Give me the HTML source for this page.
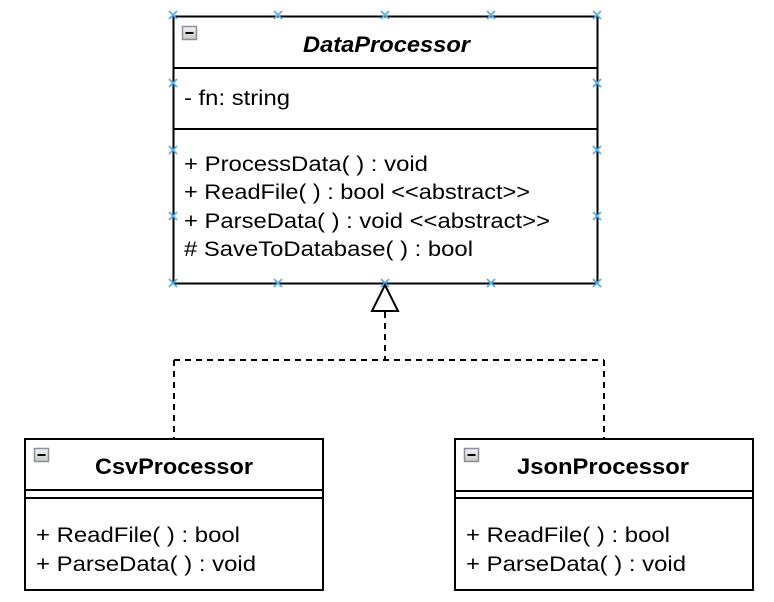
<!DOCTYPE html>
<html><head><meta charset="utf-8"><style>
html,body{margin:0;padding:0;background:#fff;}
svg{display:block;}
text{font-family:"Liberation Sans",Helvetica,Arial,sans-serif;fill:#000;}
</style></head><body>
<svg width="774" height="602" viewBox="0 0 774 602" xmlns="http://www.w3.org/2000/svg">
<defs>
<linearGradient id="g" x1="0" y1="0" x2="0" y2="1"><stop offset="0" stop-color="#f4f4f4"/><stop offset="1" stop-color="#c8c8c8"/></linearGradient>
<g id="mn"><rect x="0.5" y="0.5" width="14" height="13" fill="url(#g)" stroke="#8a8f99" stroke-width="1.5"/><rect x="3.5" y="6" width="8" height="2" fill="#000"/></g>
<g id="x"><path d="M-4,-4L4,4M-4,4L4,-4" stroke="#5aaee8" stroke-width="1.8"/></g>
</defs>
<rect x="173.5" y="16.5" width="424" height="267" fill="#fff" stroke="#000" stroke-width="2"/>
<line x1="173" y1="68" x2="597" y2="68" stroke="#000" stroke-width="2"/>
<line x1="173" y1="129" x2="597" y2="129" stroke="#000" stroke-width="2"/>
<use href="#mn" x="182" y="26"/>
<text x="303" y="52" font-size="22" font-weight="bold" font-style="italic" textLength="167" lengthAdjust="spacingAndGlyphs">DataProcessor</text>
<text x="184" y="105" font-size="21" textLength="106" lengthAdjust="spacingAndGlyphs">- fn: string</text>
<text x="184" y="171" font-size="21" textLength="244" lengthAdjust="spacingAndGlyphs">+ ProcessData( ) : void</text>
<text x="184" y="199" font-size="21" textLength="346" lengthAdjust="spacingAndGlyphs">+ ReadFile( ) : bool &lt;&lt;abstract&gt;&gt;</text>
<text x="184" y="228" font-size="21" textLength="366" lengthAdjust="spacingAndGlyphs">+ ParseData( ) : void &lt;&lt;abstract&gt;&gt;</text>
<text x="184" y="256" font-size="21" textLength="289" lengthAdjust="spacingAndGlyphs"># SaveToDatabase( ) : bool</text>
<use href="#x" x="173" y="15"/><use href="#x" x="278" y="15"/><use href="#x" x="385" y="15"/><use href="#x" x="491" y="15"/><use href="#x" x="597" y="15"/>
<use href="#x" x="173" y="83"/><use href="#x" x="597" y="83"/>
<use href="#x" x="173" y="150"/><use href="#x" x="597" y="150"/>
<use href="#x" x="173" y="216"/><use href="#x" x="597" y="216"/>
<use href="#x" x="173" y="283"/><use href="#x" x="278" y="283"/><use href="#x" x="385" y="283"/><use href="#x" x="491" y="283"/><use href="#x" x="597" y="283"/>
<path d="M385,312 V360 M174,360 H604 M174,360 V439 M604,360 V439" fill="none" stroke="#000" stroke-width="2" stroke-dasharray="6,5"/>
<polygon points="385,285 372,311 398,311" fill="#fff" stroke="#000" stroke-width="2"/>
<rect x="25" y="439" width="298" height="151" fill="#fff" stroke="#000" stroke-width="2"/>
<line x1="25" y1="490" x2="323" y2="490" stroke="#000" stroke-width="2"/>
<line x1="25" y1="498" x2="323" y2="498" stroke="#000" stroke-width="2"/>
<use href="#mn" x="34" y="448"/>
<text x="95" y="474" font-size="22" font-weight="bold" textLength="158" lengthAdjust="spacingAndGlyphs">CsvProcessor</text>
<text x="36" y="542" font-size="21" textLength="204" lengthAdjust="spacingAndGlyphs">+ ReadFile( ) : bool</text>
<text x="36" y="571" font-size="21" textLength="220" lengthAdjust="spacingAndGlyphs">+ ParseData( ) : void</text>
<rect x="455" y="439" width="298" height="151" fill="#fff" stroke="#000" stroke-width="2"/>
<line x1="455" y1="491" x2="753" y2="491" stroke="#000" stroke-width="2"/>
<line x1="455" y1="498" x2="753" y2="498" stroke="#000" stroke-width="2"/>
<use href="#mn" x="464" y="448"/>
<text x="517" y="474" font-size="22" font-weight="bold" textLength="172" lengthAdjust="spacingAndGlyphs">JsonProcessor</text>
<text x="466" y="542" font-size="21" textLength="204" lengthAdjust="spacingAndGlyphs">+ ReadFile( ) : bool</text>
<text x="466" y="571" font-size="21" textLength="220" lengthAdjust="spacingAndGlyphs">+ ParseData( ) : void</text>
</svg>
</body></html>
